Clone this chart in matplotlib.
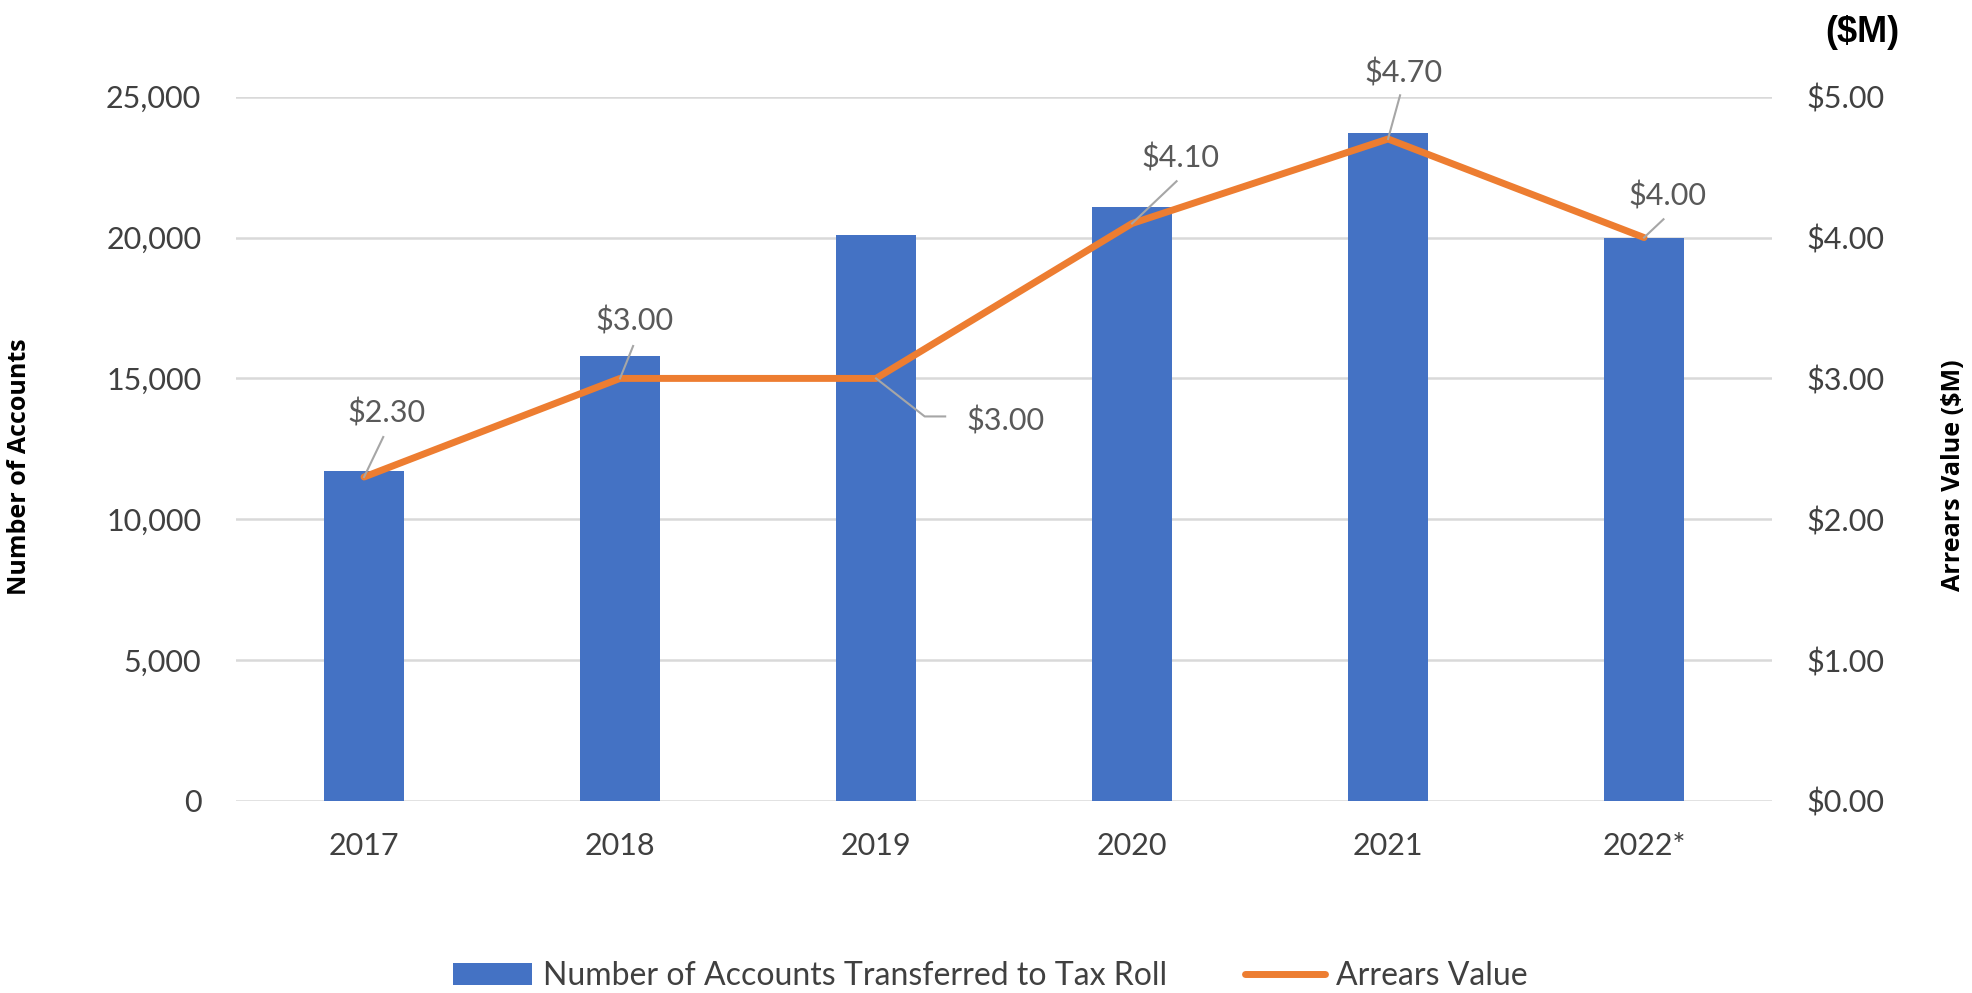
import matplotlib
matplotlib.use("Agg")
import matplotlib.pyplot as plt
from matplotlib.ticker import FuncFormatter, FixedLocator
import numpy as np

# ---- data ----
years = ["2017", "2018", "2019", "2020", "2021", "2022*"]
accounts = [11700, 15800, 20100, 21100, 23700, 20000]
arrears = [2.30, 3.00, 3.00, 4.10, 4.70, 4.00]
left_ticks = [0, 5000, 10000, 15000, 20000, 25000]
right_ticks = [0, 1, 2, 3, 4, 5]
bar_label = "Number of Accounts Transferred to Tax Roll"
line_label = "Arrears Value"

# label placement offsets (category units, right-axis units): text, leader start
label_text_off = [(0.0875, 2.69), (0.058, 3.338), (0.505, 2.627), (0.188, 4.50), (0.06, 5.10), (0.09, 4.227)]
leader_off = [(0.075, 2.584), (0.051, 3.23), None, (0.174, 4.40), (0.047, 5.01), (0.076, 4.13)]
elbow_off = [(0.19, 2.73), (0.27, 2.73)]  # for 2019 label

BLUE = "#4472C4"
ORANGE = "#ED7D31"
GRID = "#D9D9D9"
TICK_C = "#404040"
LAB_C = "#595959"
LEAD_C = "#A6A6A6"
FONT = ["Lato", "DejaVu Sans"]
TFONT = ["Open Sans", "DejaVu Sans"]

fig = plt.figure(figsize=(19.72, 9.93), dpi=100)
ax = fig.add_axes([0.1197, 0.1934, 0.7789, 0.7092])
x = np.arange(len(years))

ax.bar(x, accounts, width=0.316, color=BLUE, zorder=2, label=bar_label)
ax.set_xlim(-0.5, len(years) - 0.5)
ax.set_ylim(0, 25000)
ax.yaxis.set_major_locator(FixedLocator(left_ticks))
ax.yaxis.set_major_formatter(FuncFormatter(lambda v, p: f"{v:,.0f}"))
ax.grid(axis="y", color=GRID, lw=1.8, zorder=0)
ax.set_axisbelow(True)
ax.set_xticks(x)
ax.set_xticklabels(years)
for s in ax.spines.values():
    s.set_visible(False)
ax.tick_params(axis="y", length=0, pad=25, labelsize=22, labelcolor=TICK_C)
ax.tick_params(axis="x", length=0, pad=22, labelsize=22, labelcolor=TICK_C)
for t in ax.get_xticklabels() + ax.get_yticklabels():
    t.set_fontfamily(FONT)

ax2 = ax.twinx()
ax2.plot(x, arrears, color=ORANGE, lw=5, solid_joinstyle="round", solid_capstyle="round",
         zorder=3, label=line_label)
ax2.set_ylim(0, 5)
ax2.yaxis.set_major_locator(FixedLocator(right_ticks))
ax2.yaxis.set_major_formatter(FuncFormatter(lambda v, p: f"${v:.2f}"))
for s in ax2.spines.values():
    s.set_visible(False)
ax2.tick_params(axis="y", length=0, pad=25, labelsize=22, labelcolor=TICK_C)
for t in ax2.get_yticklabels():
    t.set_fontfamily(FONT)

# data labels with leader lines
for i, v in enumerate(arrears):
    tdx, ty = label_text_off[i]
    ax2.text(x[i] + tdx, ty, f"${v:.2f}", ha="center", va="baseline", fontsize=22,
             color=LAB_C, family=FONT, clip_on=False, zorder=4)
    if leader_off[i] is not None:
        ldx, ly = leader_off[i]
        ax2.plot([x[i] + ldx, x[i]], [ly, v], color=LEAD_C, lw=1.5, zorder=4, clip_on=False)
    else:
        xs = [x[i]] + [x[i] + e[0] for e in elbow_off]
        ys = [v] + [e[1] for e in elbow_off]
        ax2.plot(xs, ys, color=LEAD_C, lw=1.5, zorder=4, clip_on=False)

# axis titles
fig.text(20 / 1972, 1 - 467 / 993, "Number of Accounts", rotation=90, ha="center", va="center",
         fontsize=18, fontweight="bold", family=TFONT, color="#000000")
fig.text(1953 / 1972, 1 - 475 / 993, "Arrears Value ($M)", rotation=90, ha="center", va="center",
         fontsize=18, fontweight="bold", family=TFONT, color="#000000")
fig.text(1862 / 1972, 1 - 32 / 993, "($M)", ha="center", va="center", fontsize=26,
         fontweight="bold", family=["Liberation Sans Narrow", "Liberation Sans", "DejaVu Sans"],
         color="#000000")

h1, l1 = ax.get_legend_handles_labels()
h2, l2 = ax2.get_legend_handles_labels()
leg = fig.legend(h1 + h2, l1 + l2, loc="center", bbox_to_anchor=(0.502, 0.0171), ncol=2,
                 frameon=False, prop={"family": FONT, "size": 23}, handlelength=2.5,
                 handletextpad=0.33, columnspacing=2.45)
for t in leg.get_texts():
    t.set_color(TICK_C)

fig.savefig("out.png", dpi=100, facecolor="white")
